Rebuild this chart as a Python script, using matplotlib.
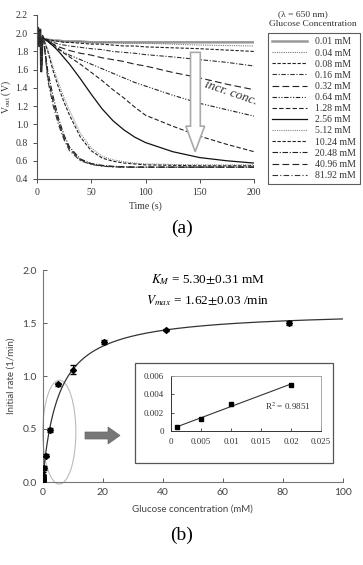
import numpy as np
import matplotlib
matplotlib.use("Agg")
import matplotlib.pyplot as plt
from matplotlib.patches import Ellipse, Polygon, Rectangle

plt.rcParams['font.family'] = ['Liberation Serif', 'DejaVu Serif']
plt.rcParams['mathtext.fontset'] = 'stix'

# ---- panel (a) data: Vout(t) per glucose concentration ----
conc_labels = ['0.01 mM', '0.04 mM', '0.08 mM', '0.16 mM', '0.32 mM', '0.64 mM', '1.28 mM',
               '2.56 mM', '5.12 mM', '10.24 mM', '20.48 mM', '40.96 mM', '81.92 mM']
t_start = [0, 1, 2, 3, 4, 5]
v_start = [1.98, 2.06, 1.86, 2.04, 1.58, 1.97]
t_s = [6, 10, 15, 20, 25, 30, 40, 50, 60, 70, 80, 90, 100, 125, 150, 175, 200]
v_001 = [1.94, 1.93, 1.92, 1.92, 1.91, 1.91, 1.91, 1.90, 1.90, 1.90, 1.90, 1.90, 1.90, 1.90, 1.90, 1.90, 1.90]
v_004 = [1.94, 1.93, 1.92, 1.92, 1.91, 1.91, 1.91, 1.90, 1.90, 1.90, 1.89, 1.89, 1.89, 1.88, 1.87, 1.865, 1.86]
v_008 = [1.94, 1.93, 1.92, 1.91, 1.90, 1.90, 1.89, 1.88, 1.88, 1.87, 1.86, 1.86, 1.85, 1.84, 1.83, 1.815, 1.80]
v_016 = [1.94, 1.92, 1.90, 1.88, 1.87, 1.86, 1.845, 1.83, 1.82, 1.80, 1.79, 1.78, 1.765, 1.74, 1.71, 1.68, 1.64]
v_032 = [1.94, 1.92, 1.88, 1.85, 1.83, 1.81, 1.78, 1.76, 1.73, 1.71, 1.69, 1.66, 1.64, 1.57, 1.51, 1.44, 1.38]
v_064 = [1.94, 1.91, 1.86, 1.82, 1.79, 1.76, 1.71, 1.66, 1.61, 1.56, 1.51, 1.46, 1.42, 1.32, 1.23, 1.16, 1.09]
v_128 = [1.94, 1.92, 1.88, 1.83, 1.78, 1.74, 1.66, 1.57, 1.48, 1.38, 1.29, 1.19, 1.10, 0.98, 0.87, 0.78, 0.70]
v_256 = [1.94, 1.91, 1.86, 1.80, 1.73, 1.66, 1.50, 1.33, 1.17, 1.04, 0.94, 0.86, 0.80, 0.70, 0.635, 0.60, 0.575]
v_512 = [1.94, 1.82, 1.62, 1.45, 1.29, 1.15, 0.90, 0.74, 0.65, 0.61, 0.59, 0.575, 0.565, 0.56, 0.555, 0.555, 0.555]
v_1024 = [1.94, 1.80, 1.58, 1.40, 1.24, 1.10, 0.86, 0.71, 0.63, 0.595, 0.575, 0.565, 0.555, 0.55, 0.545, 0.545, 0.545]
v_2048 = [1.94, 1.58, 1.30, 1.06, 0.88, 0.75, 0.62, 0.57, 0.55, 0.54, 0.535, 0.53, 0.53, 0.53, 0.53, 0.53, 0.53]
v_4096 = [1.94, 1.52, 1.24, 1.02, 0.85, 0.73, 0.61, 0.565, 0.545, 0.535, 0.53, 0.53, 0.53, 0.53, 0.53, 0.53, 0.53]
v_8192 = [1.94, 1.48, 1.20, 0.99, 0.83, 0.71, 0.60, 0.56, 0.54, 0.533, 0.53, 0.53, 0.53, 0.53, 0.53, 0.53, 0.53]
curves = [v_001, v_004, v_008, v_016, v_032, v_064, v_128, v_256, v_512, v_1024, v_2048, v_4096, v_8192]

# ---- panel (b) data ----
glucose = [0.01, 0.04, 0.08, 0.16, 0.32, 0.64, 1.28, 2.56, 5.12, 10.24, 20.48, 40.96, 81.92]
rate = [0.01, 0.02, 0.03, 0.05, 0.07, 0.13, 0.25, 0.49, 0.92, 1.06, 1.32, 1.43, 1.50]
rate_err = [0.01, 0.01, 0.01, 0.01, 0.02, 0.02, 0.01, 0.02, 0.01, 0.04, 0.02, 0.01, 0.02]
km, vmax = 5.30, 1.62
ins_x = [0.001, 0.005, 0.01, 0.02]
ins_y = [0.0004, 0.0013, 0.0030, 0.0050]

W, H = 363, 565
fig = plt.figure(figsize=(3.63, 5.65), dpi=100)

def fx(px):
    return px / W

def fy(py):
    return 1 - py / H

# styles for the 13 curves
styles = [
    dict(color='#999999', lw=1.8, ls='-'),
    dict(color='#777777', lw=0.8, ls=(0, (1, 1))),
    dict(color='#222222', lw=0.8, ls=(0, (3, 1.5))),
    dict(color='#333333', lw=0.8, ls=(0, (4, 1.5, 1, 1.5))),
    dict(color='#222222', lw=0.8, ls=(0, (6, 3))),
    dict(color='#222222', lw=0.8, ls=(0, (4, 1.5, 1, 1.5, 1, 1.5))),
    dict(color='#222222', lw=0.8, ls=(0, (4, 2))),
    dict(color='#111111', lw=0.9, ls='-'),
    dict(color='#888888', lw=0.8, ls=(0, (1, 1))),
    dict(color='#222222', lw=0.8, ls=(0, (3, 1.5))),
    dict(color='#222222', lw=0.8, ls=(0, (5, 1.5, 1, 1.5))),
    dict(color='#222222', lw=0.8, ls=(0, (6, 3))),
    dict(color='#333333', lw=0.8, ls=(0, (5, 2, 1, 2))),
]

# ---------------- panel (a) ----------------
axa = fig.add_axes([fx(37), fy(179), fx(254 - 37), (179 - 15) / H])
for lab, v, st in zip(conc_labels, curves, styles):
    axa.plot(t_start + t_s, v_start + v, label=lab, **st)
axa.set_xlim(0, 200)
axa.set_ylim(0.4, 2.2)
axa.set_xticks([0, 50, 100, 150, 200])
axa.set_yticks(np.arange(0.4, 2.21, 0.2))
axa.yaxis.set_major_formatter(plt.FormatStrFormatter('%.1f'))
for s in ['top', 'right']:
    axa.spines[s].set_visible(False)
for s in ['left', 'bottom']:
    axa.spines[s].set_color('#555555')
    axa.spines[s].set_linewidth(0.8)
axa.tick_params(labelsize=7, colors='#333333', length=3, width=0.6, direction='out')
axa.set_xlabel('Time (s)', fontsize=7, color='#333333', labelpad=3)
axa.set_ylabel(r'V$_{\mathrm{out}}$ (V)', fontsize=7, color='#333333', labelpad=2)

# hollow arrow
arrow_pts = [(141.5, 1.79), (150.5, 1.79), (150.5, 0.98), (154.5, 0.98), (145.8, 0.70),
             (137.2, 0.98), (141.5, 0.98)]
axa.add_patch(Polygon(arrow_pts, closed=True, fc='white', ec='#aaaaaa', lw=1.2, zorder=5))
axa.text(179, 1.34, 'incr. conc.', fontsize=9.5, style='italic', rotation=-19,
         ha='center', va='center', color='#333333', clip_on=False)

leg = axa.legend(loc='upper left', bbox_to_anchor=(fx(268), fy(33)), bbox_transform=fig.transFigure,
                 fontsize=7, frameon=True, fancybox=False, handlelength=3.6, handletextpad=0.8,
                 labelspacing=0.22, borderpad=0.45, borderaxespad=0)
leg.get_frame().set_edgecolor('#333333')
leg.get_frame().set_linewidth(0.8)
for txt in leg.get_texts():
    txt.set_color('#333333')
fig.text(fx(303), fy(14), '(λ = 650 nm)', fontsize=6.8, ha='center', va='center', color='#333333')
fig.text(fx(313), fy(24), 'Glucose Concentration', fontsize=6.8, ha='center', va='center', color='#333333')
fig.text(fx(182), fy(228), '(a)', fontsize=14, ha='center', va='center')

# ---------------- panel (b) ----------------
axb = fig.add_axes([fx(42.5), fy(482), fx(343 - 42.5), (482 - 270) / H])
xx = np.linspace(0, 100, 400)
axb.plot(xx, vmax * xx / (km + xx), color='#333333', lw=0.9)
axb.errorbar(glucose, rate, yerr=rate_err, fmt='D', ms=3, color='black', ecolor='black',
             elinewidth=0.7, capsize=2, zorder=4)
axb.set_xlim(0, 100)
axb.set_ylim(0, 2.0)
axb.set_xticks(np.arange(0, 101, 20))
axb.set_yticks([0, 0.5, 1.0, 1.5, 2.0])
axb.yaxis.set_major_formatter(plt.FormatStrFormatter('%.1f'))
for s in ['top', 'right']:
    axb.spines[s].set_visible(False)
for s in ['left', 'bottom']:
    axb.spines[s].set_color('#777777')
    axb.spines[s].set_linewidth(0.8)
axb.tick_params(labelsize=7.5, colors='#444444', length=3, width=0.6, direction='in', pad=4)
for lab in axb.get_xticklabels() + axb.get_yticklabels():
    lab.set_family(['Lato', 'DejaVu Sans'])
axb.set_xlabel('Glucose concentration (mM)', fontsize=7, color='#444444',
               family=['Lato', 'DejaVu Sans'], labelpad=6)
axb.set_ylabel('Initial rate (1/min)', fontsize=7, color='#444444',
               family=['Lato', 'DejaVu Sans'], labelpad=5)

axb.add_patch(Ellipse((5.6, 0.47), 11, 0.98, fill=False, ec='#bbbbbb', lw=0.8, clip_on=False))

fig.text(fx(208), fy(280), r'$K_M$ = 5.30$\pm$0.31 mM', fontsize=9.5, ha='center', va='center')
fig.text(fx(208), fy(301), r'$V_{max}$ = 1.62$\pm$0.03 /min', fontsize=9.5, ha='center', va='center')

# grey block arrow
ap = [(85, 432), (108, 432), (108, 427), (120, 435.5), (108, 444), (108, 439), (85, 439)]
fig.add_artist(Polygon([(fx(a), fy(b)) for a, b in ap], closed=True, fc='#777777', ec='#666666',
                       lw=0.5, transform=fig.transFigure))

# inset frame
fig.add_artist(Rectangle((fx(135), fy(463)), fx(333 - 135), (463 - 363) / H, fill=False,
                         ec='#555555', lw=0.9, transform=fig.transFigure))
axi = fig.add_axes([fx(171), fy(431), fx(321 - 171), (431 - 376) / H])
fit = np.polyfit(ins_x, ins_y, 1)
xl = np.array([ins_x[0], ins_x[-1]])
axi.plot(xl, np.polyval(fit, xl), color='#333333', lw=0.8)
axi.plot(ins_x, ins_y, 's', color='black', ms=2.5)
axi.set_xlim(0, 0.025)
axi.set_ylim(0, 0.006)
axi.set_xticks([0, 0.005, 0.01, 0.015, 0.02, 0.025])
axi.set_xticklabels(['0', '0.005', '0.01', '0.015', '0.02', '0.025'])
axi.set_yticks([0, 0.002, 0.004, 0.006])
axi.set_yticklabels(['0', '0.002', '0.004', '0.006'])
for s in ['top', 'right']:
    axi.spines[s].set_color('#999999')
    axi.spines[s].set_linewidth(0.6)
for s in ['left', 'bottom']:
    axi.spines[s].set_color('#333333')
    axi.spines[s].set_linewidth(0.7)
axi.tick_params(labelsize=6.5, colors='#333333', length=2.5, width=0.6, direction='in', pad=5)
axi.text(0.0195, 0.0027, r'R$^2$ = 0.9851', fontsize=6.5, ha='center', va='center', color='#333333')

fig.text(fx(182), fy(535), '(b)', fontsize=14, ha='center', va='center')

fig.savefig('out.png', dpi=100)
